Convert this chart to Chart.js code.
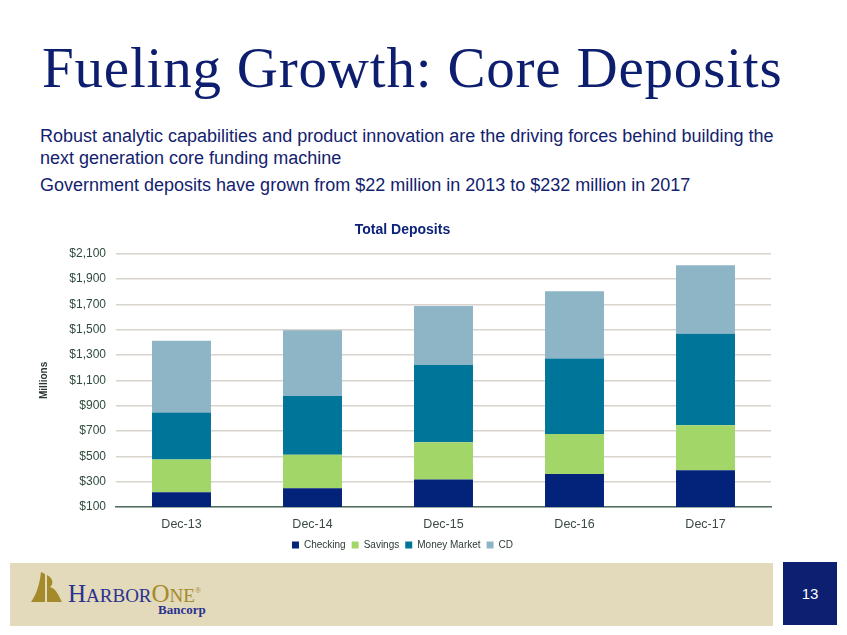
<!DOCTYPE html>
<html>
<head>
<meta charset="utf-8">
<script src="https://cdn.jsdelivr.net/npm/chart.js@4.4.1/dist/chart.umd.min.js"></script>
<style>
  html, body { margin: 0; padding: 0; background: #fff; }
  body { width: 847px; height: 635px; position: relative; overflow: hidden; font-family: "Liberation Sans", Arial, sans-serif; }
  h1 { position: absolute; left: 42px; top: 39px; margin: 0; font-family: "Liberation Serif", serif; font-weight: normal; font-size: 57px; line-height: 57px; color: #0d1e6e; letter-spacing: 0.8px; white-space: nowrap; }
  .sub { position: absolute; left: 40px; margin: 0; font-size: 18px; color: #13226e; line-height: 22px; white-space: nowrap; }
  #chartBox { position: absolute; left: 0; top: 210px; width: 847px; height: 350px; }
  .footer { position: absolute; left: 10px; top: 563px; width: 763px; height: 63px; background: #e3d9bb; }
  .page { position: absolute; left: 783px; top: 562px; width: 54px; height: 63px; background: #0c1f70; color: #fff; font-size: 15px; text-align: center; line-height: 63px; }
  .logo { position: absolute; left: 31px; top: 572px; }
  .brand { position: absolute; left: 68px; top: 578px; font-family: "Liberation Serif", serif; font-size: 25px; line-height: 26px; color: #2b3290; white-space: nowrap; }
  .brand .sc { font-size: 19px; }
  .brand .gold { color: #a48a2a; }
  .bancorp { position: absolute; left: 158px; top: 602px; font-family: "Liberation Serif", serif; font-weight: bold; font-size: 13px; color: #2b3290; }
</style>
</head>
<body>
<h1>Fueling Growth: Core Deposits</h1>
<p class="sub" style="top:125px">Robust analytic capabilities and product innovation are the driving forces behind building the<br>next generation core funding machine</p>
<p class="sub" style="top:174px">Government deposits have grown from $22 million in 2013 to $232 million in 2017</p>
<div id="chartBox"><canvas id="depositChart"></canvas></div>
<div class="footer"></div>
<svg class="logo" width="32" height="32" viewBox="0 0 32 32">
  <path d="M0 30 C6 22 9 10 10 0 L14 2 L14 30 Z" fill="#a48a2a"/>
  <path d="M16 3 C22 6 23 12 19 15 C26 17 28 25 31 30 L16 30 Z" fill="#a48a2a"/>
</svg>
<div class="brand">H<span class="sc">ARBOR</span><span class="gold">O<span class="sc">NE</span></span><sup style="font-size:8px;color:#a48a2a">®</sup></div>
<div class="bancorp">Bancorp</div>
<div class="page">13</div>
<script>
// カテゴリと系列データ（百万ドル）
const categories = ["Dec-13", "Dec-14", "Dec-15", "Dec-16", "Dec-17"];
const checking = [217, 248, 317, 360, 391];
const savings = [259, 265, 294, 317, 355];
const moneyMarket = [370, 463, 611, 595, 722];
const cd = [567, 521, 465, 532, 542];
const tickMin = 100;
const tickMax = 2100;
const tickStep = 200;

const barOpts = { categoryPercentage: 1.0, barPercentage: 0.45 };

const ctx = document.getElementById("depositChart").getContext("2d");
new Chart(ctx, {
    type: "bar",
    data: {
        labels: categories,
        datasets: [
            { label: "Checking", data: checking, backgroundColor: "#03227a", ...barOpts },
            { label: "Savings", data: savings, backgroundColor: "#a3d669", ...barOpts },
            { label: "Money Market", data: moneyMarket, backgroundColor: "#00759a", ...barOpts },
            { label: "CD", data: cd, backgroundColor: "#8db5c6", ...barOpts },
        ],
    },
    options: {
        responsive: true,
        maintainAspectRatio: false,
        animation: false,
        layout: { padding: { left: 34, right: 76, top: 8, bottom: 0 } },
        scales: {
            x: {
                stacked: true,
                grid: { display: false },
                border: { color: "#4f6e60", width: 1.5 },
                ticks: { color: "#3b4a44", font: { family: "Liberation Sans", size: 12.5 }, padding: 2 },
            },
            y: {
                stacked: true,
                min: tickMin,
                max: tickMax,
                ticks: {
                    stepSize: tickStep,
                    color: "#2f4a3c",
                    font: { family: "Liberation Sans", size: 12 },
                    padding: 10,
                    callback: (v) => "$" + v.toLocaleString("en-US"),
                },
                grid: { color: "#d8d3cc", lineWidth: 1.5, drawTicks: false },
                border: { display: false },
                title: { display: true, text: "Millions", color: "#2a3a30", font: { family: "Liberation Sans", size: 10, weight: "bold" }, padding: { bottom: 12 } },
                afterFit(scale) { scale.width = 82; },
            },
        },
        plugins: {
            title: {
                display: true,
                text: "Total Deposits",
                color: "#0d237a",
                font: { family: "Liberation Sans", size: 14, weight: "bold" },
                padding: { top: 4, bottom: 15 },
            },
            legend: {
                position: "bottom",
                labels: { boxWidth: 7, boxHeight: 7, color: "#2f3a35", font: { family: "Liberation Sans", size: 10 }, padding: 6 },
            },
            tooltip: { enabled: false },
        },
    },
});
</script>
</body>
</html>
